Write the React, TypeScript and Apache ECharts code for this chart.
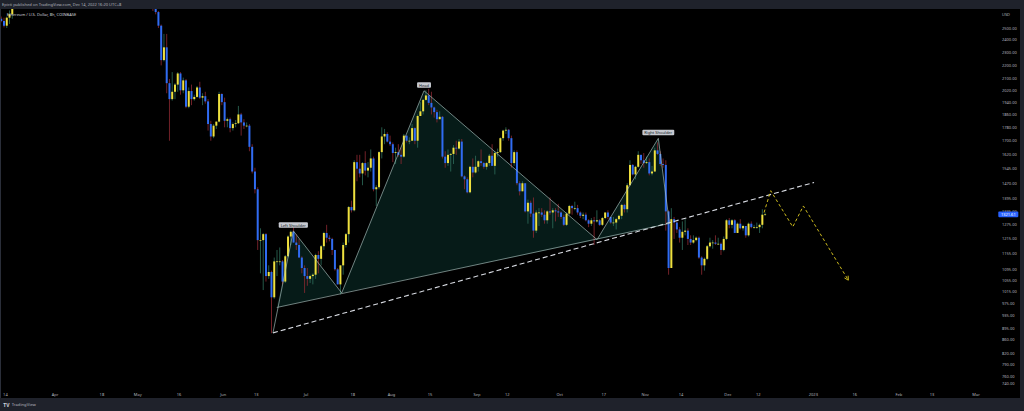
import React, { useEffect, useRef } from "react";
import * as echarts from "echarts";

// ---------- data (Ethereum / U.S. Dollar, Coinbase, daily summary of the 8h chart, UTC+8) ----------
const FIRST_DAY = "2022-03-12";
const FIRST_OPEN = 2580;
// [high, low, close]
const mar22 = [[2600,2550,2560],[2590,2505,2520],[2600,2500,2590],[2655,2535,2620],[2800,2580,2770],[2840,2760,2815],[2950,2750,2940],[2990,2910,2950],[2960,2840,2860],[2960,2830,2895],[3040,2900,2970],[3040,2920,3030],[3130,3010,3110],[3180,3090,3105],[3150,3100,3145],[3300,3130,3290],[3480,3290,3330],[3445,3330,3400],[3450,3340,3385],[3440,3270,3280]];
const apr22 = [[3470,3210,3455],[3530,3440,3445],[3575,3440,3520],[3540,3400,3520],[3550,3400,3410],[3410,3160,3170],[3270,3150,3235],[3300,3180,3190],[3270,3180,3260],[3310,3180,3210],[3220,2950,2980],[3080,2970,3030],[3140,3000,3120],[3140,2980,3020],[3060,3010,3040],[3080,3030,3065],[3080,2990,2990],[3090,2900,3060],[3120,3050,3105],[3170,3060,3080],[3190,2980,2985],[3030,2940,2960],[2970,2930,2940],[2950,2900,2925],[3010,2800,3005],[3030,2790,2810],[2930,2790,2890],[2980,2860,2940],[2950,2780,2820],[2830,2730,2730]];
const may22 = [[2840,2710,2830],[2880,2780,2860],[2880,2770,2780],[2960,2770,2940],[2960,2700,2750],[2760,2650,2700],[2715,2620,2640],[2650,2500,2520],[2530,2200,2240],[2450,2230,2340],[2450,2000,2070],[2100,1700,1960],[2150,1950,2010],[2070,1960,2060],[2150,2010,2140],[2150,1990,2020],[2110,2000,2090],[2100,1900,1910],[2040,1900,2015],[2060,1920,1960],[1990,1950,1975],[2050,1970,2040],[2080,1960,1970],[2000,1920,1980],[2010,1930,1945],[1960,1760,1800],[1820,1700,1725],[1800,1715,1790],[1815,1770,1815],[2010,1810,1995],[2000,1920,1940]];
const jun22 = [[1970,1780,1820],[1840,1780,1830],[1840,1750,1775],[1810,1760,1800],[1825,1780,1805],[1915,1800,1860],[1870,1730,1810],[1830,1770,1790],[1810,1780,1790],[1800,1640,1665],[1680,1520,1530],[1550,1420,1440],[1450,1170,1210],[1260,1080,1210],[1240,1020,1235],[1240,1050,1070],[1110,1060,1085],[1090,880,995],[1140,990,1125],[1170,1070,1125],[1180,1110,1125],[1130,1040,1050],[1150,1045,1145],[1230,1140,1225],[1250,1190,1245],[1280,1200,1200],[1235,1170,1190],[1215,1140,1140],[1145,1080,1100],[1110,1010,1070]];
const jul22 = [[1100,1035,1060],[1075,1045,1070],[1080,1040,1075],[1155,1060,1150],[1165,1080,1135],[1190,1110,1185],[1245,1170,1240],[1275,1200,1220],[1230,1205,1215],[1220,1150,1170],[1170,1090,1095],[1100,1040,1040],[1110,1005,1110],[1200,1075,1190],[1240,1180,1235],[1360,1200,1355],[1385,1330,1340],[1590,1335,1580],[1620,1480,1545],[1620,1500,1520],[1580,1460,1575],[1640,1510,1535],[1580,1500,1550],[1650,1530,1600],[1610,1430,1440],[1460,1360,1450],[1640,1440,1635],[1780,1600,1725],[1770,1680,1740],[1750,1690,1695],[1730,1670,1680]];
const aug22 = [[1690,1580,1630],[1660,1570,1635],[1680,1610,1620],[1660,1570,1610],[1740,1605,1730],[1730,1690,1700],[1720,1680,1700],[1800,1700,1775],[1780,1680,1700],[1860,1660,1850],[1940,1850,1880],[1960,1860,1955],[2020,1950,1985],[2030,1920,1935],[2010,1860,1905],[1910,1840,1875],[1890,1810,1830],[1880,1830,1845],[1850,1600,1610],[1640,1550,1575],[1650,1560,1620],[1630,1530,1625],[1675,1570,1660],[1700,1620,1655],[1710,1650,1695],[1710,1500,1505],[1510,1440,1490],[1500,1420,1425],[1560,1420,1555],[1600,1500,1525],[1615,1520,1555]];
const sep22 = [[1590,1530,1585],[1650,1560,1575],[1580,1545,1555],[1580,1540,1575],[1625,1560,1615],[1680,1560,1560],[1640,1515,1630],[1655,1610,1635],[1720,1630,1715],[1765,1700,1760],[1780,1740,1765],[1770,1700,1715],[1730,1550,1575],[1645,1560,1635],[1645,1460,1470],[1480,1410,1430],[1480,1430,1470],[1470,1330,1335],[1390,1280,1375],[1385,1310,1325],[1400,1220,1250],[1340,1240,1330],[1350,1270,1330],[1350,1310,1320],[1340,1280,1295],[1340,1280,1335],[1400,1320,1330],[1350,1260,1340],[1350,1290,1335],[1370,1310,1330]];
const oct22 = [[1335,1300,1310],[1320,1270,1275],[1330,1270,1325],[1365,1320,1360],[1365,1320,1350],[1380,1340,1350],[1365,1320,1330],[1335,1305,1315],[1330,1300,1320],[1330,1290,1295],[1300,1265,1280],[1305,1270,1295],[1310,1190,1290],[1340,1285,1295],[1300,1270,1275],[1310,1270,1305],[1330,1300,1330],[1340,1300,1310],[1310,1280,1285],[1310,1270,1285],[1305,1255,1300],[1320,1295,1315],[1370,1300,1365],[1370,1330,1345],[1470,1330,1460],[1590,1460,1565],[1570,1510,1515],[1560,1490,1555],[1640,1550,1620],[1620,1570,1590],[1630,1550,1575]];
const nov22 = [[1610,1570,1580],[1600,1510,1520],[1560,1510,1530],[1660,1530,1645],[1690,1620,1625],[1640,1560,1570],[1600,1550,1565],[1590,1250,1335],[1340,1075,1100],[1350,1100,1300],[1310,1215,1285],[1290,1240,1255],[1265,1200,1220],[1290,1170,1245],[1300,1230,1250],[1260,1190,1215],[1230,1190,1200],[1230,1195,1210],[1225,1205,1220],[1225,1135,1140],[1145,1075,1110],[1140,1090,1135],[1190,1130,1185],[1220,1180,1200],[1210,1175,1200],[1230,1190,1195],[1220,1190,1195],[1200,1150,1170],[1225,1165,1215],[1300,1210,1295]];
const dec22 = [[1305,1260,1275],[1300,1260,1295],[1300,1240,1240],[1285,1240,1280],[1300,1255,1260],[1275,1250,1270],[1270,1220,1230],[1285,1225,1280],[1290,1260,1265],[1275,1258,1265],[1285,1258,1265],[1280,1240,1275],[1345,1260,1320],[1330,1315,1321.61]];

const LAST_PRICE = 1321.61;

const priceTicks = [2500,2400,2300,2200,2100,2020,1940,1860,1780,1700,1620,1545,1470,1395,1335,1275,1215,1155,1095,1055,1015,975,935,895,860,820,790,760,740];
const PRICE_MIN = 729.6;
const PRICE_MAX = 2668;

const timeTicks: [string, string][] = [
  ["2022-03-14","14"],["2022-04-01","Apr"],["2022-04-18","18"],["2022-05-01","May"],["2022-05-16","16"],
  ["2022-06-01","Jun"],["2022-06-13","13"],["2022-07-01","Jul"],["2022-07-18","18"],["2022-08-01","Aug"],
  ["2022-08-15","15"],["2022-09-01","Sep"],["2022-09-12","12"],["2022-10-01","Oct"],["2022-10-17","17"],
  ["2022-11-01","Nov"],["2022-11-14","14"],["2022-12-01","Dec"],["2022-12-12","12"],["2023-01-01","2023"],
  ["2023-01-16","16"],["2023-02-01","Feb"],["2023-02-13","13"],["2023-03-01","Mar"],
];
const X_MIN_DATE = "2022-03-12 01:10";
const X_MAX_DATE = "2023-03-08 14:20";

// head & shoulders: start, left shoulder, trough, head, trough, right shoulder
const hsPoints: [string, number][] = [
  ["2022-06-19 01:00", 881],
  ["2022-06-26 10:00", 1249],
  ["2022-07-13 23:00", 1010],
  ["2022-08-12 19:30", 2017],
  ["2022-10-14 13:30", 1212],
  ["2022-11-05 18:45", 1714],
];
const neckline: [string, number][] = [["2022-06-20 10:00", 961], ["2022-11-09 20:00", 1281]];
const hsLabels = ["Left Shoulder", "Head", "Right Shoulder"];
const trendLine: [string, number][] = [["2022-06-19 01:00", 881], ["2023-01-01 06:00", 1474]];
const projection: [string, number][] = [
  ["2022-12-14 03:00", 1330],
  ["2022-12-16 13:00", 1433],
  ["2022-12-24 13:00", 1266],
  ["2022-12-28 09:00", 1360],
  ["2023-01-13 16:30", 1055],
];

// ---------- helpers ----------
const dayOf = (s: string) => {
  const [d, t] = s.split(" ");
  const [Y, M, D] = d.split("-").map(Number);
  let hrs = 0;
  if (t) {
    const [hh, mm] = t.split(":").map(Number);
    hrs = hh + mm / 60;
  }
  return (Date.UTC(Y, M - 1, D) - Date.UTC(2022, 2, 14)) / 864e5 + hrs / 24;
};

const FONT = "'Noto Sans', Roboto, sans-serif";
const UP = "#efe03e";
const DN = "#2f6cf2";
const WICK_UP = "#2e6e5c";
const WICK_DN = "#8e2a32";

export default function App() {
  const ref = useRef<HTMLDivElement>(null);

  useEffect(() => {
    document.body.style.margin = "0";
    document.body.style.background = "#000";
    if (!ref.current) return;
    const chart = echarts.init(ref.current, undefined, { renderer: "svg" });

    const all = [mar22, apr22, may22, jun22, jul22, aug22, sep22, oct22, nov22, dec22].flat();
    const first = dayOf(FIRST_DAY);
    let prev = FIRST_OPEN;
    const candleData = all.map((hlc, i) => {
      const [h, l, c] = hlc;
      const o = prev;
      prev = c;
      return [first + i + 0.5, Math.log(o), Math.log(h), Math.log(l), Math.log(c)];
    });
    const toXY = (pts: [string, number][]) => pts.map(([s, p]) => [dayOf(s), Math.log(p)]);
    const tickMap = new Map<number, string>();
    timeTicks.forEach(([d, l]) => tickMap.set(Math.round(dayOf(d)), l));

    const option: any = {
      animation: false,
      backgroundColor: "#000000",
      grid: { left: 0, top: 9, width: 997, height: 379, containLabel: false },
      xAxis: {
        type: "value",
        min: dayOf(X_MIN_DATE),
        max: dayOf(X_MAX_DATE),
        axisLine: { show: false },
        axisTick: { show: false },
        splitLine: { show: false },
        axisLabel: {
          customValues: timeTicks.map(([d]) => dayOf(d)),
          formatter: (v: number) => tickMap.get(Math.round(v)) ?? "",
          color: "#b2b5be",
          fontSize: 4,
          fontFamily: FONT,
          margin: 4,
        },
      },
      yAxis: {
        type: "value",
        position: "right",
        min: Math.log(PRICE_MIN),
        max: Math.log(PRICE_MAX),
        axisLine: { show: false },
        axisTick: { show: false },
        splitLine: { show: false },
        axisLabel: {
          customValues: priceTicks.map((p) => Math.log(p)),
          formatter: (v: number) => Math.exp(v).toFixed(2),
          color: "#b2b5be",
          fontSize: 4,
          fontFamily: FONT,
          margin: 5,
          align: "left",
        },
      },
      series: [
        {
          type: "custom",
          name: "hsFill",
          z: 1,
          clip: true,
          data: [toXY(hsPoints)[0]],
          renderItem: (params: any, api: any) => {
            if (params.dataIndex !== 0) return null;
            const P = (pt: [string, number]) => api.coord([dayOf(pt[0]), Math.log(pt[1])]);
            const [, B, C, D, E, F] = hsPoints.map(P);
            const [N1, N2] = neckline.map(P);
            const fill = "rgba(40,165,150,0.16)";
            return {
              type: "group",
              children: [
                { type: "polygon", shape: { points: [N1, B, C] }, style: { fill } },
                { type: "polygon", shape: { points: [C, D, E] }, style: { fill } },
                { type: "polygon", shape: { points: [E, F, N2] }, style: { fill } },
              ],
            };
          },
        },
        {
          type: "custom",
          name: "ETHUSD",
          z: 2,
          clip: true,
          data: candleData,
          encode: { x: 0, y: [1, 2, 3, 4] },
          renderItem: (params: any, api: any) => {
            const x = api.value(0);
            const o = api.value(1), h = api.value(2), l = api.value(3), c = api.value(4);
            const pO = api.coord([x, o]);
            const pC = api.coord([x, c]);
            const pH = api.coord([x, h]);
            const pL = api.coord([x, l]);
            const up = c >= o;
            const w = 2;
            const top = Math.min(pO[1], pC[1]);
            const hgt = Math.max(Math.abs(pO[1] - pC[1]), 0.7);
            return {
              type: "group",
              children: [
                {
                  type: "line",
                  shape: { x1: pH[0], y1: pH[1], x2: pL[0], y2: pL[1] },
                  style: { stroke: up ? WICK_UP : WICK_DN, lineWidth: 0.8 },
                },
                {
                  type: "rect",
                  shape: { x: pO[0] - w / 2, y: top, width: w, height: hgt },
                  style: { fill: up ? UP : DN },
                },
              ],
            };
          },
        },
        {
          type: "line",
          name: "trend",
          z: 3,
          data: toXY(trendLine),
          symbol: "none",
          lineStyle: { color: "#d8dbe2", width: 1.1, type: [5, 3] },
        },
        {
          type: "line",
          name: "projection",
          z: 3,
          data: toXY(projection),
          symbol: "none",
          lineStyle: { color: "#cdbb1e", width: 1, type: [3, 2.5] },
        },
        {
          type: "custom",
          name: "hsLines",
          z: 4,
          clip: false,
          data: [toXY(hsPoints)[0]],
          renderItem: (params: any, api: any) => {
            if (params.dataIndex !== 0) return null;
            const P = (pt: [string, number]) => api.coord([dayOf(pt[0]), Math.log(pt[1])]);
            const pts = hsPoints.map(P);
            const [N1, N2] = neckline.map(P);
            const stroke = "rgba(175,200,196,0.8)";
            const labelPts = [pts[1], pts[3], pts[5]];
            // arrow head at end of projection
            const pr = projection.map(P);
            const a = pr[pr.length - 2], b = pr[pr.length - 1];
            const ang = Math.atan2(b[1] - a[1], b[0] - a[0]);
            const L = 4.5, spread = 0.5;
            const h1 = [b[0] - L * Math.cos(ang - spread), b[1] - L * Math.sin(ang - spread)];
            const h2 = [b[0] - L * Math.cos(ang + spread), b[1] - L * Math.sin(ang + spread)];
            const yLast = api.coord([0, Math.log(LAST_PRICE)])[1];
            return {
              type: "group",
              children: [
                { type: "polyline", shape: { points: [...pts, N2] }, style: { stroke, lineWidth: 0.8, fill: null } },
                { type: "line", shape: { x1: N1[0], y1: N1[1], x2: N2[0], y2: N2[1] }, style: { stroke, lineWidth: 0.8 } },
                { type: "polyline", shape: { points: [h1, b, h2] }, style: { stroke: "#cdbb1e", lineWidth: 1, fill: null } },
                ...labelPts.map((p: number[], i: number) => ({
                  type: "text",
                  x: p[0],
                  y: p[1] - 3,
                  style: {
                    text: hsLabels[i],
                    fontSize: 4,
                    fontFamily: FONT,
                    fill: "#131722",
                    backgroundColor: "#c6c9d0",
                    padding: [1, 2, 0.6, 2],
                    borderRadius: 1,
                    align: "center",
                    verticalAlign: "bottom",
                  },
                })),
                {
                  type: "text",
                  x: 998.3,
                  y: yLast,
                  style: {
                    text: LAST_PRICE.toFixed(2),
                    fontSize: 4,
                    fontFamily: FONT,
                    fill: "#ffffff",
                    backgroundColor: "#2962ff",
                    padding: [0.8, 2.6, 0.8, 2.6],
                    borderRadius: 0.8,
                    align: "left",
                    verticalAlign: "middle",
                  },
                },
              ],
            };
          },
        },
      ],
      graphic: [
        { type: "rect", z: 100, shape: { x: 0, y: 0, width: 1024, height: 9 }, style: { fill: "#1f222b" } },
        { type: "rect", z: 100, shape: { x: 0, y: 398, width: 1024, height: 13 }, style: { fill: "#1f222b" } },
        { type: "rect", z: 100, shape: { x: 1020, y: 0, width: 4, height: 411 }, style: { fill: "#1f222b" } },
        { type: "rect", z: 100, shape: { x: 0, y: 9, width: 1, height: 389 }, style: { fill: "#2a2e39" } },
        {
          type: "text", z: 101, x: 2, y: 4.6,
          style: { text: "Epicti published on TradingView.com, Dec 14, 2022 16:20 UTC+8", fontSize: 4, fontFamily: FONT, fill: "#b2b5be", verticalAlign: "middle" },
        },
        {
          type: "text", z: 101, x: 6.7, y: 14.6,
          style: { text: "Ethereum / U.S. Dollar, 8h, COINBASE", fontSize: 4, fontFamily: FONT, fill: "#d1d4dc", verticalAlign: "middle" },
        },
        {
          type: "text", z: 101, x: 1002, y: 14,
          style: { text: "USD", fontSize: 4, fontFamily: FONT, fill: "#b2b5be", verticalAlign: "middle" },
        },
        {
          type: "text", z: 101, x: 3.3, y: 404.6,
          style: { text: "TV", fontSize: 5, fontWeight: "bold", fontFamily: FONT, fill: "#d1d4dc", verticalAlign: "middle" },
        },
        {
          type: "text", z: 101, x: 11.7, y: 404.6,
          style: { text: "TradingView", fontSize: 4.2, fontFamily: FONT, fill: "#b2b5be", verticalAlign: "middle" },
        },
      ],
    };

    chart.setOption(option);
    return () => chart.dispose();
  }, []);

  return <div ref={ref} style={{ width: 1024, height: 411 }} />;
}
